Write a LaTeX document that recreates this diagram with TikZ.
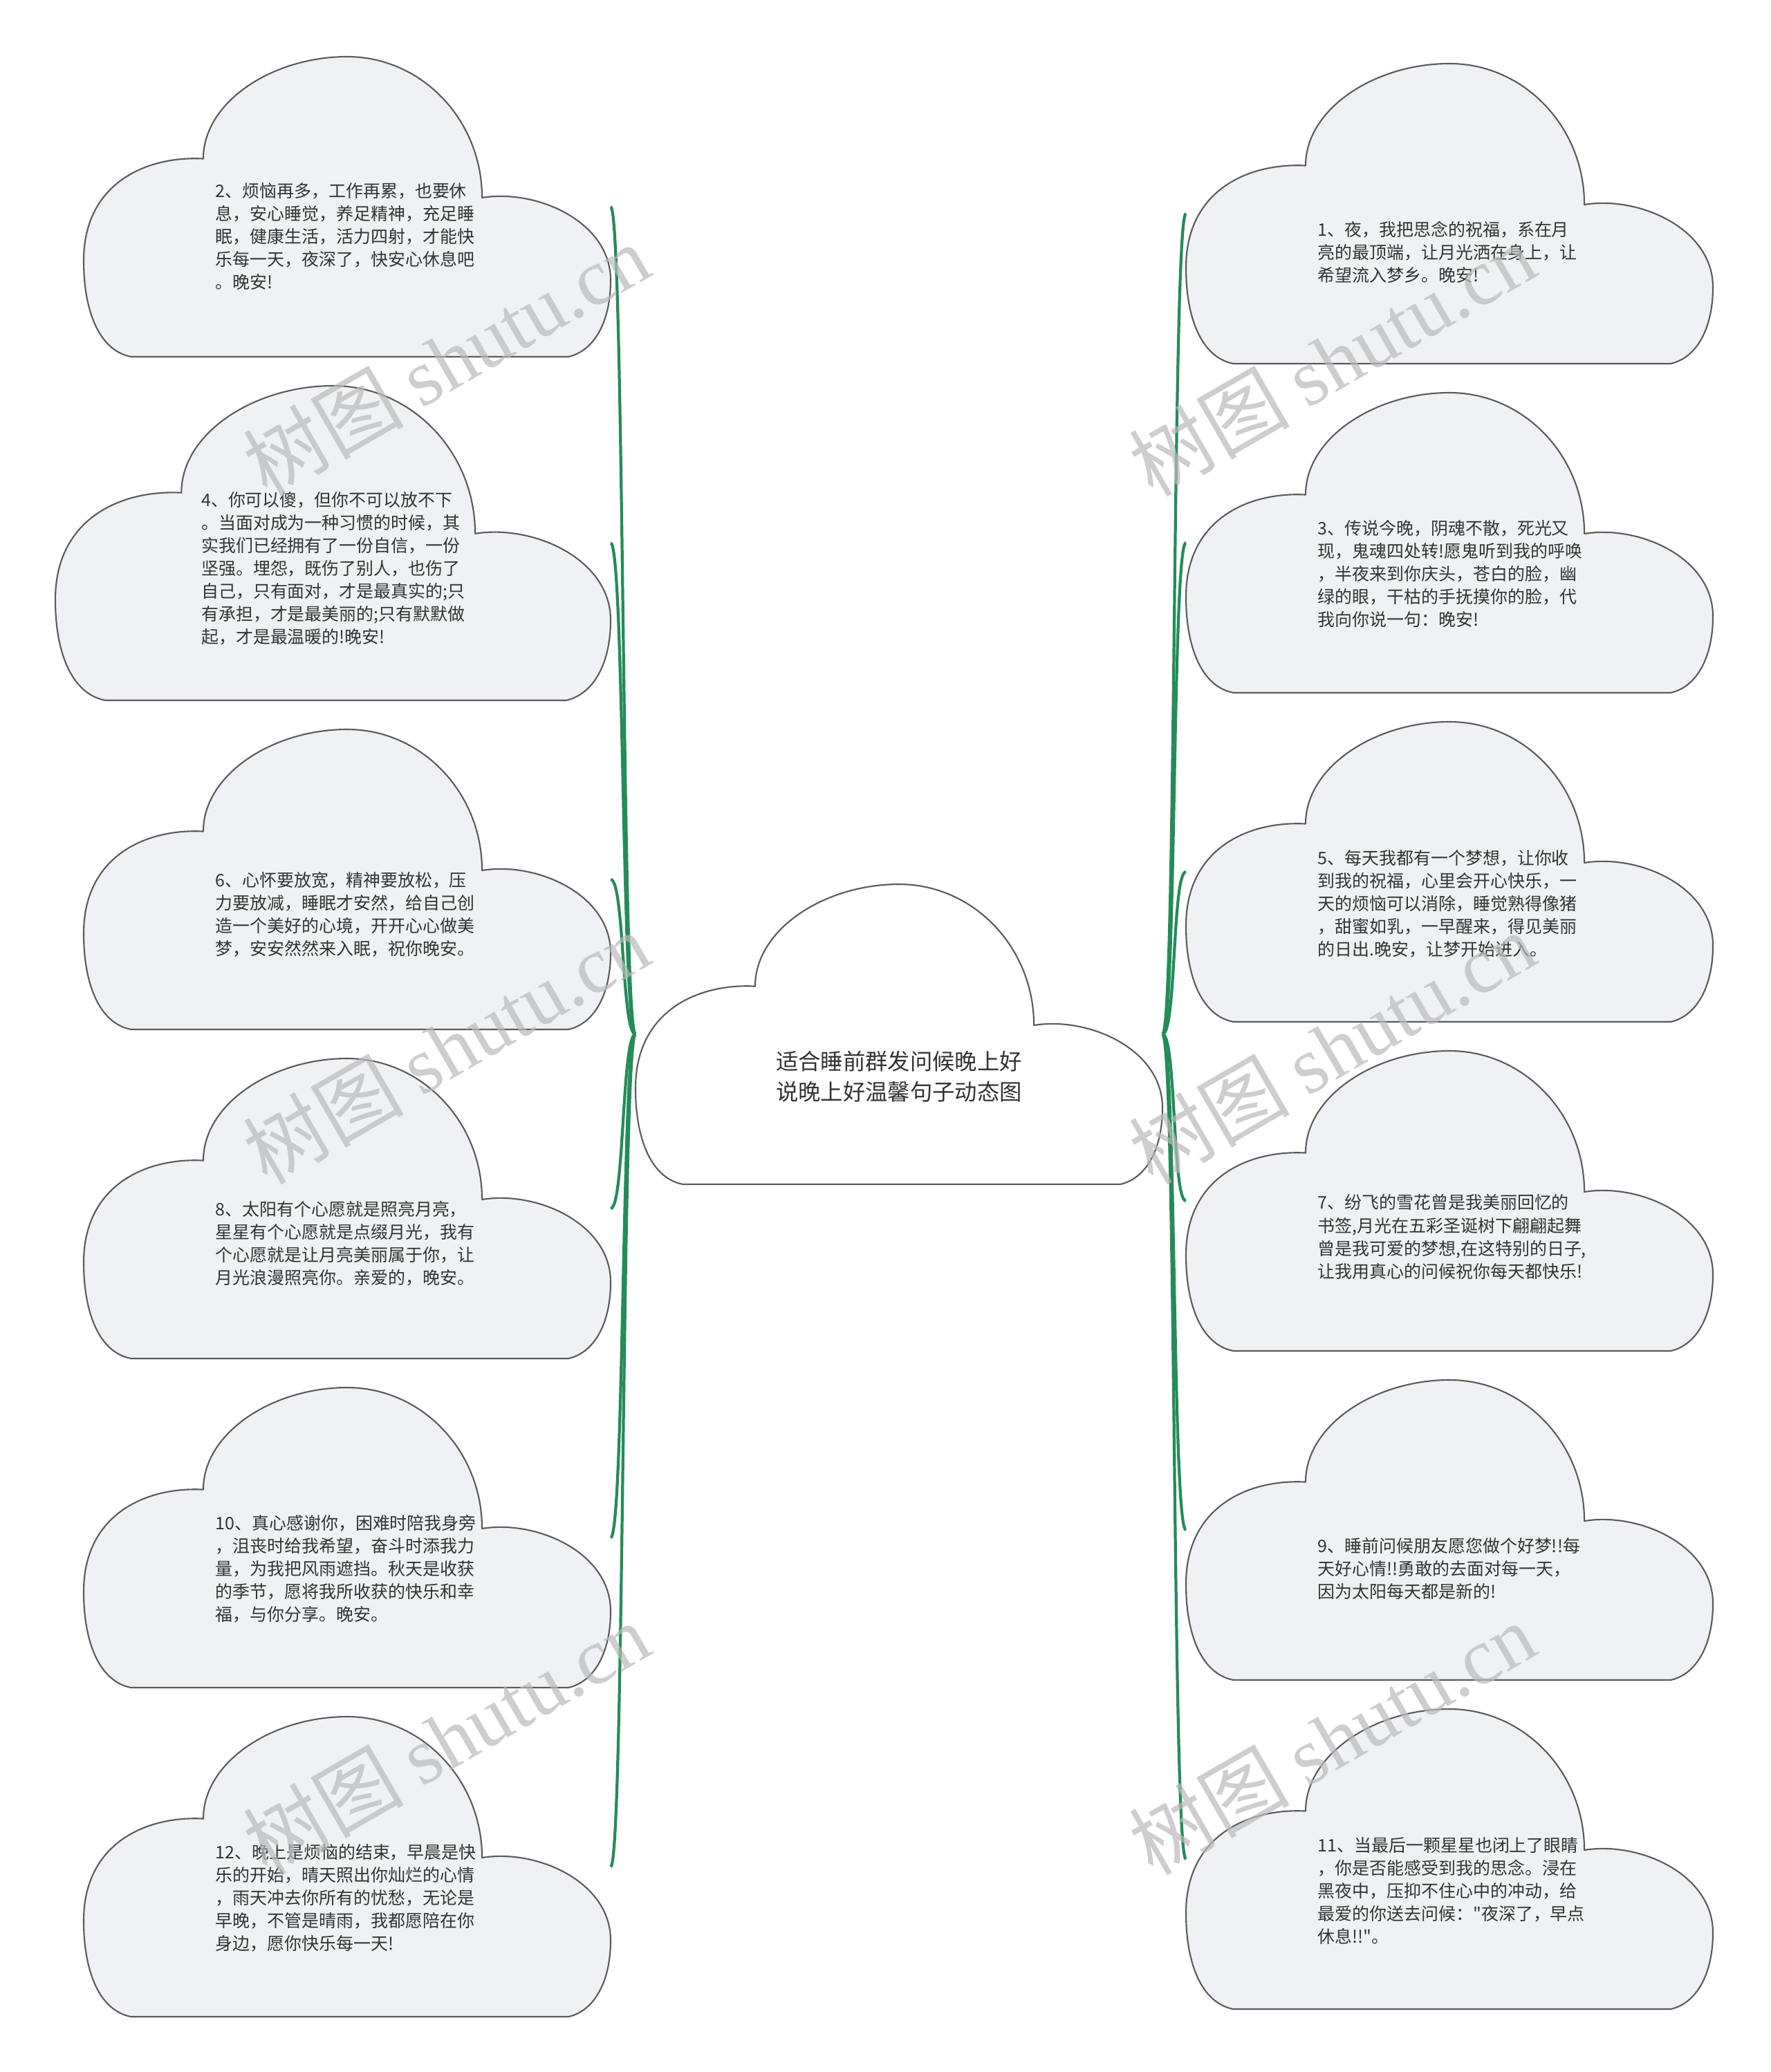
\documentclass[tikz,border=0pt]{standalone}
\usepackage{fontspec}
\newfontfamily\cjk{Noto Sans CJK SC}
\newfontfamily\wmserif{Liberation Serif}
\usetikzlibrary{positioning}

\definecolor{cloudfill}{HTML}{EFF1F4}
\definecolor{cloudline}{HTML}{5A5A5A}
\definecolor{branch}{RGB}{36,140,88}
\definecolor{msgtext}{HTML}{333333}
\definecolor{wmgray}{HTML}{BABABA}

% cloud outline drawn round a box node: #2 node, #3 width, #4 height
\newcommand{\cloudshape}[4][cloudfill]{%
  \begin{scope}[shift={(#2.center)},x=#3,y=#4]
    \filldraw[fill=#1,draw=cloudline,line width=0.6pt,line join=round]
      (-0.41,-0.5) .. controls (-0.47,-0.48) and (-0.5,-0.35) .. (-0.5,-0.18)
      .. controls (-0.5,0.08) and (-0.38,0.17) .. (-0.273,0.16)
      .. controls (-0.273,0.35) and (-0.141,0.5) .. (0,0.5)
      .. controls (0.141,0.5) and (0.256,0.29) .. (0.256,0.03)
      .. controls (0.36,0.06) and (0.5,-0.05) .. (0.5,-0.245)
      .. controls (0.5,-0.38) and (0.47,-0.48) .. (0.42,-0.5)
      -- cycle;
  \end{scope}}

\begin{document}
\begin{tikzpicture}[
  cloudbox/.style={minimum width=76.2mm,minimum height=43.4mm,inner sep=0pt,outer sep=0pt},
  msg/.style={font=\cjk\fontsize{7.1}{9.4}\selectfont,text=msgtext,align=left,anchor=west,inner sep=0pt},
  title/.style={font=\cjk\fontsize{9.2}{12.5}\selectfont,text=msgtext,align=left,inner sep=0pt},
  branch/.style={draw=branch,line width=1.2pt},
  wmark/.style={font=\cjk\fontsize{33}{33}\selectfont,text=wmgray,opacity=0.7,rotate=30,inner sep=0pt}]

  \useasboundingbox[fill=white] (0,0) rectangle (256mm,-299.7mm);

  % boxes
  \node[cloudbox] (c0) at (130mm,-149.6mm) {};
  \node[cloudbox] (c2) at (50.2mm,-29.9mm) {};
  \node[cloudbox,minimum width=80.3mm,minimum height=45.5mm,below=4.2mm of c2.south east,anchor=north east] (c4) {};
  \node[cloudbox,below=4.2mm of c4.south east,anchor=north east] (c6) {};
  \node[cloudbox,below=4.2mm of c6.south east,anchor=north east] (c8) {};
  \node[cloudbox,below=4.2mm of c8.south east,anchor=north east] (c10) {};
  \node[cloudbox,below=4.2mm of c10.south east,anchor=north east] (c12) {};
  \node[cloudbox] (c1) at (209.6mm,-30.9mm) {};
  \node[cloudbox,below=4.2mm of c1.south west,anchor=north west] (c3) {};
  \node[cloudbox,below=4.2mm of c3.south west,anchor=north west] (c5) {};
  \node[cloudbox,below=4.2mm of c5.south west,anchor=north west] (c7) {};
  \node[cloudbox,below=4.2mm of c7.south west,anchor=north west] (c9) {};
  \node[cloudbox,below=4.2mm of c9.south west,anchor=north west] (c11) {};

  % clouds
  \foreach \n in {c1,c2,c3,c5,c6,c7,c8,c9,c10,c11,c12}
    \cloudshape{\n}{76.2mm}{43.4mm};
  \cloudshape{c4}{80.3mm}{45.5mm}
  \cloudshape[white]{c0}{76.2mm}{43.4mm}

  % texts
  \node[title] (t0) at ([yshift=-6.1mm]c0.center) {适合睡前群发问候晚上好\\说晚上好温馨句子动态图};
  \node[msg] (t2) at ([xshift=-19.1mm,yshift=-4.3mm]c2.center) {2、烦恼再多，工作再累，也要休\\息，安心睡觉，养足精神，充足睡\\眠，健康生活，活力四射，才能快\\乐每一天，夜深了，快安心休息吧\\。晚安!};
  \node[msg] (t4) at ([xshift=-19.1mm,yshift=-3.7mm]c4.center) {4、你可以傻，但你不可以放不下\\。当面对成为一种习惯的时候，其\\实我们已经拥有了一份自信，一份\\坚强。埋怨，既伤了别人，也伤了\\自己，只有面对，才是最真实的;只\\有承担，才是最美丽的;只有默默做\\起，才是最温暖的!晚安!};
  \node[msg] (t6) at ([xshift=-19.1mm,yshift=-5.1mm]c6.center) {6、心怀要放宽，精神要放松，压\\力要放减，睡眠才安然，给自己创\\造一个美好的心境，开开心心做美\\梦，安安然然来入眠，祝你晚安。};
  \node[msg] (t8) at ([xshift=-19.1mm,yshift=-5.1mm]c8.center) {8、太阳有个心愿就是照亮月亮，\\星星有个心愿就是点缀月光，我有\\个心愿就是让月亮美丽属于你，让\\月光浪漫照亮你。亲爱的，晚安。};
  \node[msg] (t10) at ([xshift=-19.1mm,yshift=-4.5mm]c10.center) {10、真心感谢你，困难时陪我身旁\\，沮丧时给我希望，奋斗时添我力\\量，为我把风雨遮挡。秋天是收获\\的季节，愿将我所收获的快乐和幸\\福，与你分享。晚安。};
  \node[msg] (t12) at ([xshift=-19.1mm,yshift=-4.5mm]c12.center) {12、晚上是烦恼的结束，早晨是快\\乐的开始，晴天照出你灿烂的心情\\，雨天冲去你所有的忧愁，无论是\\早晚，不管是晴雨，我都愿陪在你\\身边，愿你快乐每一天!};
  \node[msg] (t1) at ([xshift=-19.1mm,yshift=-5.6mm]c1.center) {1、夜，我把思念的祝福，系在月\\亮的最顶端，让月光洒在身上，让\\希望流入梦乡。晚安!};
  \node[msg] (t3) at ([xshift=-19.1mm,yshift=-4.5mm]c3.center) {3、传说今晚，阴魂不散，死光又\\现，鬼魂四处转!愿鬼听到我的呼唤\\，半夜来到你庆头，苍白的脸，幽\\绿的眼，干枯的手抚摸你的脸，代\\我向你说一句：晚安!};
  \node[msg] (t5) at ([xshift=-19.1mm,yshift=-4.6mm]c5.center) {5、每天我都有一个梦想，让你收\\到我的祝福，心里会开心快乐，一\\天的烦恼可以消除，睡觉熟得像猪\\，甜蜜如乳，一早醒来，得见美丽\\的日出.晚安，让梦开始进入。};
  \node[msg] (t7) at ([xshift=-19.1mm,yshift=-5.2mm]c7.center) {7、纷飞的雪花曾是我美丽回忆的\\书签,月光在五彩圣诞树下翩翩起舞\\曾是我可爱的梦想,在这特别的日子,\\让我用真心的问候祝你每天都快乐!};
  \node[msg] (t9) at ([xshift=-19.1mm,yshift=-5.6mm]c9.center) {9、睡前问候朋友愿您做个好梦!!每\\天好心情!!勇敢的去面对每一天，\\因为太阳每天都是新的!};
  \node[msg] (t11) at ([xshift=-19.1mm,yshift=-4.6mm]c11.center) {11、当最后一颗星星也闭上了眼睛\\，你是否能感受到我的思念。浸在\\黑夜中，压抑不住心中的冲动，给\\最爱的你送去问候："夜深了，早点\\休息!!"。};

  % branches
  \foreach \n in {c2,c4,c6,c8,c10,c12}
    \draw[branch] (c0.west) to[out=180,in=0,distance=2mm] (\n.east);
  \foreach \n in {c1,c3,c5,c7,c9,c11}
    \draw[branch] (c0.east) to[out=0,in=180,distance=2mm] (\n.west);

  % watermark
  \node[wmark] (w1) at (64.5mm,-52mm) {树图 {\wmserif shutu.cn}};
  \node[wmark] (w2) at (64.5mm,-151.5mm) {树图 {\wmserif shutu.cn}};
  \node[wmark] (w3) at (64.5mm,-251.4mm) {树图 {\wmserif shutu.cn}};
  \node[wmark] (w4) at (192.6mm,-52mm) {树图 {\wmserif shutu.cn}};
  \node[wmark] (w5) at (192.6mm,-151.5mm) {树图 {\wmserif shutu.cn}};
  \node[wmark] (w6) at (192.6mm,-251.4mm) {树图 {\wmserif shutu.cn}};
\end{tikzpicture}
\end{document}
